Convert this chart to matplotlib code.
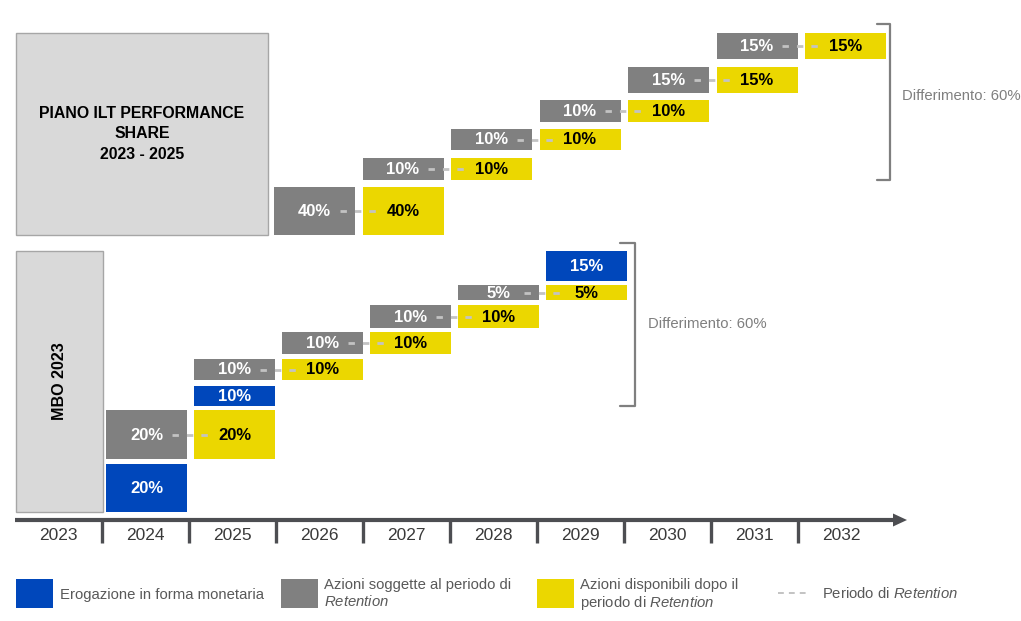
import matplotlib.pyplot as plt
from matplotlib.patches import Rectangle, Polygon

plt.rcParams.update({
    'font.family': 'Liberation Sans',
    'mathtext.fontset': 'custom',
    'mathtext.rm': 'Liberation Sans',
    'mathtext.it': 'Liberation Sans:italic',
    'mathtext.bf': 'Liberation Sans:bold',
})

# ---- data ----
years = [2023, 2024, 2025, 2026, 2027, 2028, 2029, 2030, 2031, 2032]

# Piano ILT Performance Share: shares under retention, released the year after
ilt_title = 'PIANO ILT PERFORMANCE\nSHARE\n2023 - 2025'
ilt_ret_years = [2026, 2027, 2028, 2029, 2030, 2031]
ilt_ret_pct = [40, 10, 10, 10, 15, 15]

# MBO 2023: cash payments + shares under retention
mbo_title = 'MBO 2023'
mbo_cash_years = [2024, 2025, 2029]
mbo_cash_pct = [20, 10, 15]
mbo_ret_years = [2024, 2025, 2026, 2027, 2028]
mbo_ret_pct = [20, 10, 10, 10, 5]

retention_lag = 1
deferral_text = 'Differimento: 60%'

legend_labels = ['Erogazione in forma monetaria',
                 'Azioni soggette al periodo di\n$\\it{Retention}$',
                 'Azioni disponibili dopo il\nperiodo di $\\it{Retention}$']
legend_dash_label = 'Periodo di $\\it{Retention}$'

# ---- style / layout (pixels, origin top-left) ----
BLUE, GREY, YELLOW = '#0047BB', '#808080', '#EBD700'
BOX, BOX_EDGE = '#D9D9D9', '#A6A6A6'
AXIS = '#4D4E52'
DASH = '#C3C3C3'
TXT = '#595959'
BW = 81  # bar width

ILT_X0, ILT_PITCH = 274, 88.5
MBO_X0, MBO_PITCH = 106, 88
ilt_rows = [(187, 48), (158, 22), (129, 21), (100, 22), (67, 26), (33, 26)]
mbo_ret_rows = [(410, 49), (359, 21), (332, 22), (305, 23), (285, 15)]
mbo_cash_rows = [(464, 48), (386, 20), (251, 30)]

COL0, COLW, AXIS_Y = 14.5, 87, 520


def ilt_x(year):
    return ILT_X0 + ILT_PITCH * (year - ilt_ret_years[0])


def mbo_x(year):
    return MBO_X0 + MBO_PITCH * (year - mbo_cash_years[0])


fig = plt.figure(figsize=(10.21, 6.21), dpi=100)
ax = fig.add_axes([0, 0, 1, 1])
ax.set_xlim(0, 1021)
ax.set_ylim(621, 0)
ax.axis('off')


def block(x, top, h, color, pct, tcolor):
    ax.bar(x, h, width=BW, bottom=top, align='edge', color=color, lw=0, zorder=2)
    ax.text(x + BW / 2, top + h / 2 + 0.5, f'{pct}%', ha='center', va='center',
            fontsize=12, fontweight='bold', color=tcolor, zorder=4)


def retention(xfun, yrs, pcts, rows):
    for y, p, (top, h) in zip(yrs, pcts, rows):
        gx, yx = xfun(y), xfun(y + retention_lag)
        block(gx, top, h, GREY, p, 'white')
        block(yx, top, h, YELLOW, p, 'black')
        cy = top + h / 2
        ax.plot([gx + BW / 2 + 25, yx + BW / 2 - 26], [cy, cy], color=DASH,
                lw=2.0, dashes=(2.3, 2.9), solid_capstyle='butt', zorder=3)


def bracket(x, y0, y1, arm):
    ax.plot([x - arm, x, x, x - arm], [y0, y0, y1, y1], color='#7F7F7F', lw=1.6,
            solid_joinstyle='round', solid_capstyle='round', zorder=2)


# title boxes
ax.add_patch(Rectangle((16, 33), 252, 202, fc=BOX, ec=BOX_EDGE, lw=1))
ax.text(142, 134, ilt_title, ha='center', va='center', fontsize=11.4,
        fontweight='bold', linespacing=1.45)
ax.add_patch(Rectangle((16, 251), 87, 261, fc=BOX, ec=BOX_EDGE, lw=1))
ax.text(59.5, 381.5, mbo_title, ha='center', va='center', fontsize=11.6,
        fontweight='bold', rotation=90)

# ILT stairs
retention(ilt_x, ilt_ret_years, ilt_ret_pct, ilt_rows)
bracket(890, 24, 180, 13)
ax.text(902, 96, deferral_text, ha='left', va='center', fontsize=10.7, color='#7F7F7F')

# MBO stairs
for y, p, (top, h) in zip(mbo_cash_years, mbo_cash_pct, mbo_cash_rows):
    block(mbo_x(y), top, h, BLUE, p, 'white')
retention(mbo_x, mbo_ret_years, mbo_ret_pct, mbo_ret_rows)
bracket(635, 243, 406, 15)
ax.text(648, 324, deferral_text, ha='left', va='center', fontsize=10.7, color='#7F7F7F')

# timeline
ax.plot([15, 896], [AXIS_Y, AXIS_Y], color=AXIS, lw=3, solid_capstyle='butt')
ax.add_patch(Polygon([[893, AXIS_Y - 6.5], [907, AXIS_Y], [893, AXIS_Y + 6.5]],
                     closed=True, color=AXIS, lw=0))
for i, yr in enumerate(years):
    if i > 0:
        xb = COL0 + COLW * i
        ax.plot([xb, xb], [AXIS_Y, AXIS_Y + 23], color=AXIS, lw=2.4,
                solid_capstyle='butt')
    ax.text(COL0 + COLW * (i + 0.5), 536, str(yr), ha='center', va='center',
            fontsize=12.5, color='#3A3A3A')

# legend
for x, col, lab in zip([16, 281, 537], [BLUE, GREY, YELLOW], legend_labels):
    ax.add_patch(Rectangle((x, 579), 37, 29, fc=col, lw=0))
    lines = lab.split('\n')
    if len(lines) == 1:
        ax.text(x + 44, 598.5, lines[0], ha='left', va='baseline', fontsize=10.7, color=TXT)
    else:
        ax.text(x + 43, 588.5, lines[0], ha='left', va='baseline', fontsize=10.7, color=TXT)
        ax.text(x + 43, 606.5, lines[1], ha='left', va='baseline', fontsize=10.7, color=TXT)
ax.plot([778, 806], [593, 593], color=DASH, lw=1.4, dashes=(3, 2.6))
ax.text(822, 598.5, legend_dash_label, ha='left', va='baseline', fontsize=10.7, color=TXT)

fig.savefig('out.png', dpi=100)
